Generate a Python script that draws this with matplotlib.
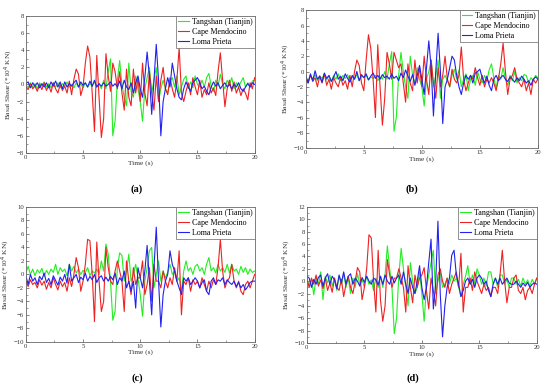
import numpy as np
import matplotlib
matplotlib.use('agg')
import matplotlib.pyplot as plt
from matplotlib.ticker import MultipleLocator

plt.rcParams['font.family'] = ['Liberation Serif', 'DejaVu Serif']

# time axis: one sample every 0.2 s, 0..20 s
time = np.arange(101) * 0.2

# ---- panel (a) ----
a_tangshan = [0.0, -0.4, 0.2, -0.3, 0.1, -0.5, 0.2, -0.2, 0.3, -0.3,
              0.1, -0.4, 0.2, -0.3, 0.2, -0.4, 0.1, -0.2, 0.3, -0.3,
              0.0, -0.4, 0.2, -0.3, 0.1, -0.4, 0.2, -0.3, 0.1, -0.2,
              0.3, -0.3, 0.1, -0.5, 0.5, -0.5, 1.5, 3.0, -6.0, -4.3,
              0.5, 2.8, 0.0, -1.5, -2.5, 2.5, -0.8, -1.5, 1.0, -0.5,
              -2.0, -4.3, -0.5, 0.8, 2.0, -1.0, 0.5, 2.0, -2.0, -0.5,
              0.5, -0.5, -1.0, 0.3, 0.8, -0.3, 1.0, -1.2, -0.3, 0.6,
              1.0, -0.5, 0.3, -0.4, 1.0, 0.0, -0.3, 0.5, -0.3, 0.8,
              1.3, -0.2, -0.8, 0.5, -0.2, 1.2, 0.0, -0.5, 0.5, 0.0,
              0.8, -0.5, 0.2, -0.3, 0.3, 0.8, -0.3, 0.2, -0.3, 0.4, 0.5]
a_cape = [-0.3, -0.6, 0.1, -0.5, -0.2, -0.8, 0.0, -0.6, 0.2, -0.7,
          -0.1, -0.9, 0.2, -0.5, -1.0, 0.0, -0.7, -0.2, -1.0, 0.4,
          -1.2, 0.6, 1.8, 1.2, -1.3, -0.3, 2.5, 4.5, 3.2, -1.0,
          -5.5, 3.4, -1.5, -6.2, -4.0, 3.6, 1.0, -0.8, 2.5, 1.5,
          -0.5, 1.5, -1.0, -3.0, 1.8, -1.5, -2.5, 1.8, -1.0, 0.8,
          -2.0, 2.5, -1.0, -2.5, 1.5, -1.0, -3.0, 1.0, -2.0, 0.5,
          2.0, -0.5, -1.2, 0.8, -0.5, -1.5, 0.5, 4.3, -1.0, -2.0,
          -0.8, 0.2, -1.2, 0.8, -0.3, -1.2, 0.5, -1.5, -0.6, -1.2,
          0.2, -1.0, -0.4, -1.3, 1.5, 3.7, 0.5, -2.6, -0.5, 0.5,
          -0.8, 0.3, -1.0, -0.3, -1.3, -0.5, -1.0, -1.8, 0.2, -0.5, 0.8]
a_loma = [0.1, 0.3, -0.4, 0.2, -0.2, 0.2, -0.4, 0.1, -0.3, 0.2,
          -0.4, 0.3, -0.2, 0.4, -0.3, 0.3, -0.5, 0.3, -0.3, 0.1,
          -0.2, 0.2, 0.5, -0.3, 0.3, -0.1, 0.2, -0.3, 0.4, -0.2,
          0.5, -0.3, 0.1, -0.2, 0.2, -0.2, 0.0, 0.3, -0.2, 0.1,
          -0.3, 0.4, -0.5, 0.5, -0.3, -0.6, 0.2, -1.0, 0.2, 1.0,
          -0.5, -1.5, 0.8, 3.8, 1.0, -3.5, 0.5, 4.7, 0.5, -6.0,
          -2.0, -0.5, 0.8, -0.3, 2.5, 1.0, -0.5, -1.5, -1.8, -0.5,
          0.3, -0.3, -0.8, 0.2, 0.5, 0.8, 0.2, -0.5, -0.2, -0.8,
          -1.2, -0.3, 0.3, -0.2, 0.2, -0.5, -0.1, 0.2, -0.3, 0.0,
          -0.5, 0.0, -0.3, 0.2, -0.5, -0.8, -0.3, 0.1, -0.3, 0.2, 0.0]

# ---- panel (b) ----
b_tangshan = [-0.8, -1.3, -0.5, -1.0, -0.4, -1.2, -0.6, -0.9, -0.3, -1.1,
              -0.6, -1.3, -0.5, -1.0, -0.3, -1.2, -0.5, -0.9, -0.4, -1.3,
              -0.7, -1.0, -0.4, -1.2, -0.6, -0.8, -0.5, -1.1, -0.7, -0.9,
              -0.5, -1.2, -0.7, -1.0, 0.0, -1.0, 1.0, 2.6, -7.8, -6.0,
              -0.5, 2.5, 0.0, -2.0, -3.5, 2.0, -0.5, -1.5, 0.5, -1.0,
              -2.0, -4.5, -1.0, 0.0, 1.5, -2.0, -0.5, 1.5, -3.5, -1.0,
              -0.5, -1.2, -2.0, -0.5, 0.3, -1.0, 0.2, -2.0, -1.0, -0.3,
              -2.5, -1.0, -0.5, -1.8, 0.0, -1.0, -1.5, -0.5, -1.2, 0.2,
              1.0, -0.8, -2.2, -0.5, -1.0, 0.5, -1.0, -1.8, -0.5, -1.2,
              0.0, -1.5, -0.8, -1.2, -0.4, -0.5, -1.5, -0.8, -1.2, -0.5, -0.8]
b_cape = [-1.0, -1.5, -0.5, -1.3, -0.8, -2.0, -0.6, -1.5, -0.3, -1.8,
          -1.0, -2.3, -0.8, -1.5, -2.0, -0.7, -1.8, -1.2, -2.3, -0.5,
          -2.0, 0.0, 1.5, 0.8, -1.5, -2.5, 1.5, 4.8, 3.0, -1.0,
          -6.0, 3.5, -2.0, -7.0, -3.5, 2.5, 1.0, -1.0, 2.5, 1.5,
          0.5, 1.0, -1.5, -4.0, 1.0, -1.5, -2.5, 1.5, -1.5, 0.5,
          -2.0, 2.0, -1.0, -3.0, 1.5, -1.5, -3.5, 0.5, -2.0, -0.5,
          2.0, -1.0, -2.0, 0.3, -1.0, -1.5, -0.5, 3.2, -1.0, -2.5,
          -1.5, -0.5, -1.0, 0.5, -0.8, -1.8, -0.5, -2.0, -1.0, -1.5,
          -0.8, -1.5, -2.5, -1.0, 1.0, 3.7, 0.0, -3.0, -1.0, -0.5,
          0.5, -1.0, -1.5, -2.0, -1.0, -2.5, -1.5, -3.0, -1.0, -1.5, -1.0]
b_loma = [-0.5, -1.5, -0.3, -1.2, 0.1, -1.0, -0.6, -1.4, -0.2, -0.9,
          -0.5, -1.3, -0.7, 0.0, -1.0, -0.6, -1.2, -0.3, -0.9, -1.4,
          -0.5, -1.0, 0.0, -1.2, -0.4, -0.8, -0.3, -1.1, -0.6, -0.2,
          -0.9, -0.5, -1.0, -0.4, -0.8, -0.6, -1.0, -0.3, -0.9, -0.6,
          -1.2, -0.2, -0.8, 0.2, -0.6, -1.3, -0.4, -1.8, -0.5, 0.8,
          -1.0, -3.0, 0.5, 4.0, 0.5, -5.8, 0.0, 5.0, 0.0, -6.8,
          -2.0, -1.0, 0.5, 2.0, 1.5, -0.5, -2.0, -3.0, -1.5, -0.5,
          -1.0, -0.5, -1.5, -0.2, 0.0, 0.3, -0.8, -1.5, -0.6, -1.8,
          -2.5, -1.0, -0.5, -1.2, -0.8, -0.5, -1.0, -1.3, -0.7, -1.0,
          -1.4, -0.8, -1.2, -0.6, -1.0, -1.5, -1.2, -1.8, -1.0, -0.7, -1.0]

# ---- panel (c) ----
c_tangshan = [0.2, 1.2, 0.0, 0.8, -0.2, 0.7, 0.2, 0.9, -0.3, 0.6,
              0.0, 0.8, 0.3, 1.5, 0.0, 1.0, 0.4, 0.8, -0.2, 1.5,
              0.5, 1.2, 0.2, 0.8, 0.0, 0.6, 0.3, 1.0, -0.2, 0.5,
              0.2, 0.8, 0.0, 2.0, 0.5, 4.5, 3.0, -1.0, -6.8, -5.5,
              1.0, 3.2, 2.8, -1.0, 0.5, 3.0, -1.0, 0.0, 1.5, -0.5,
              -3.0, -6.2, -1.0, 1.0, 3.5, 4.0, -2.0, 0.0, 2.0, -1.0,
              0.5, -0.5, 0.3, 1.5, 0.0, 0.5, -1.0, -0.5, -2.5, 0.5,
              2.0, 0.5, 1.0, 0.0, 1.2, 1.5, 0.5, 1.0, 0.0, 1.5,
              2.5, 0.5, 1.0, 0.2, 1.5, 0.5, 1.0, 0.3, 1.5, 0.2,
              1.5, 0.5, 0.8, 0.0, 1.2, 0.3, 1.0, 0.0, 0.8, 0.3, 0.5]
c_cape = [-1.0, -1.8, -0.8, -1.5, -1.2, -2.0, -0.8, -1.6, -1.0, -2.2,
          -1.2, -2.0, -0.5, -1.5, -2.3, -1.0, -1.8, -1.2, -2.5, -0.5,
          -1.8, 0.0, 2.5, 1.0, -2.5, -1.0, 1.5, 5.2, 5.0, 0.0,
          -7.0, 4.8, -1.0, -5.5, -4.0, 4.0, 1.0, -1.0, -1.5, 0.5,
          2.0, 0.5, -1.0, -5.5, 2.0, -1.0, -3.0, 1.0, -1.5, -0.5,
          -0.5, 2.0, -3.0, -1.5, 1.0, -4.0, 1.5, -1.0, -1.0, -2.0,
          0.5, -1.0, -2.0, -0.5, -1.5, 1.0, -1.0, 3.5, -6.0, -1.0,
          -1.5, -0.5, -2.5, -0.8, -1.5, -1.0, -2.0, -0.5, -1.5, -2.5,
          -1.0, -2.0, -0.8, -1.5, 1.0, 5.2, 0.5, -2.0, -1.0, -0.5,
          1.5, -1.0, -2.0, -1.0, -2.5, -3.0, -1.5, -1.0, -2.0, -1.0, 0.0]
c_loma = [-0.2, -1.5, 0.0, -1.0, -0.5, -1.5, -0.3, -0.8, 0.2, -1.2,
          -0.6, -1.5, -0.2, -0.9, -1.6, -0.4, -1.0, 0.0, -1.3, 1.5,
          -1.0, -0.5, 0.0, -1.2, -0.4, -0.8, 0.2, -1.0, -0.3, -0.8,
          0.0, -1.2, -0.5, -0.2, -1.0, -0.4, -1.0, -0.3, -0.8, 0.2,
          -1.5, -0.5, -1.0, 0.5, -2.0, -1.0, -2.5, -1.0, -5.0, 1.0,
          -0.5, -2.0, 0.5, 4.3, -1.0, -6.0, 1.0, 7.0, -1.0, -7.8,
          -3.0, -1.0, 0.0, 3.5, 1.5, 0.5, -1.0, -2.0, -3.0, -0.5,
          -1.0, -0.5, -1.5, -1.0, -0.5, -1.0, -2.0, -1.2, -0.8, -2.5,
          -3.0, -1.0, -0.5, -1.5, -0.8, -1.0, -0.5, -1.5, -0.8, -1.2,
          -1.5, -1.0, -1.8, -1.2, -2.0, -1.5, -2.3, -1.8, -1.2, -1.0, -1.0]

# ---- panel (d) ----
d_tangshan = [0.5, -0.8, 0.3, -2.2, 0.6, -0.5, 1.5, -3.0, 0.8, -0.3,
              1.0, -0.8, 0.5, -1.5, 0.8, -0.5, 1.2, -1.0, 0.5, -2.0,
              0.5, -1.0, 1.2, -0.5, 0.3, -1.0, 0.8, -0.5, 0.2, -1.5,
              0.5, -1.0, 0.8, -1.0, 1.0, 5.7, 2.0, -1.0, -8.5, -6.0,
              1.0, 5.3, 2.0, -1.0, -4.0, 3.0, 0.0, -2.0, -1.0, 1.5,
              -2.0, -6.5, -1.0, 1.0, 3.0, 5.0, -2.0, 0.0, 1.5, -1.0,
              -0.5, 0.5, -0.5, 1.0, 0.0, 0.5, -1.0, -2.5, -0.5, 0.8,
              2.5, -0.5, 1.0, -0.5, 2.0, 1.0, -0.5, 0.5, -0.8, 1.5,
              1.5, -0.5, 0.5, -1.0, 1.0, 1.0, -0.5, 0.3, -1.0, 0.5,
              0.5, -0.5, 0.3, -0.8, 0.5, -0.5, 0.2, -0.8, 0.3, -0.5, 0.5]
d_cape = [0.3, -1.0, 0.5, -0.5, 1.0, -0.8, 0.2, -1.2, 0.5, -1.5,
          -0.3, -1.8, 0.5, -1.0, -1.5, 0.3, -2.5, -0.5, 0.8, -1.0,
          -2.0, 0.0, 2.2, 1.5, -3.0, -1.0, 2.0, 7.5, 7.0, 0.0,
          -5.0, 5.0, -3.0, -6.5, -4.0, 3.5, 1.0, -1.0, 0.5, 0.5,
          2.0, 0.5, -1.0, -5.0, 2.5, -1.0, -3.5, 1.0, -1.0, 0.5,
          1.0, 2.2, -1.5, -4.5, 0.5, -1.5, -4.0, 1.0, 2.0, 0.0,
          -1.0, 0.5, -2.0, -0.5, 0.5, 1.5, -1.0, 4.5, -5.0, -1.0,
          -1.0, 0.5, -1.5, 1.5, 0.0, -1.0, -2.0, -0.5, -1.5, -1.0,
          -2.5, -1.0, -1.0, -2.0, 1.0, 5.0, 0.0, -3.5, -1.0, -1.0,
          0.5, 1.0, -1.5, -2.0, -1.0, -3.0, -1.5, -1.0, -2.0, -0.5, 0.5]
d_loma = [0.8, 0.5, -1.0, 0.3, -0.5, 0.6, 1.0, -0.8, 0.5, 1.2,
          -0.5, 0.8, 0.2, -1.2, 1.0, -0.3, 1.5, -0.5, 0.8, 1.2,
          -0.5, 0.5, 0.0, -0.8, 0.6, -0.2, 0.8, 0.0, -0.5, 0.5,
          0.2, -0.6, 0.8, -0.5, 1.0, 0.0, -0.5, 0.8, -0.3, 0.5,
          1.0, -0.5, 1.5, -0.5, -2.0, 0.5, -1.0, -2.0, 0.0, 2.5,
          -1.0, -3.0, -1.0, 3.0, 6.8, -4.5, -0.5, 9.7, -2.0, -9.0,
          -4.0, -1.0, 0.5, 4.2, 5.0, 1.0, -0.5, -2.5, -1.5, 0.0,
          0.5, -0.5, 0.3, -1.0, 0.5, 1.0, 0.5, -0.5, 0.0, -1.5,
          -2.5, -0.5, 0.5, -0.5, 0.5, -0.5, 0.0, 0.5, -0.3, -0.5,
          -0.5, 0.0, -0.5, -1.0, -0.3, -0.8, -0.2, -1.0, -0.5, -0.3, -0.5]

labels = ['Tangshan (Tianjin)', 'Cape Mendocino', 'Loma Prieta']
colors = ['#22ee22', '#ee2222', '#2222ee']

panels = [
    ('(a)', [a_tangshan, a_cape, a_loma], (-8, 8),
     [0.047, 0.610, 0.416, 0.349], (137, 189)),
    ('(b)', [b_tangshan, b_cape, b_loma], (-10, 8),
     [0.556, 0.622, 0.422, 0.352], (412, 189)),
    ('(c)', [c_tangshan, c_cape, c_loma], (-10, 10),
     [0.047, 0.128, 0.416, 0.344], (137, 378)),
    ('(d)', [d_tangshan, d_cape, d_loma], (-10, 12),
     [0.558, 0.125, 0.418, 0.347], (413, 378)),
]

fig = plt.figure(figsize=(5.5, 3.92), dpi=100)

for tag, series, ylim, rect, (lx, ly) in panels:
    ax = fig.add_axes(rect)
    for vals, lab, col in zip(series, labels, colors):
        ax.plot(time, vals, color=col, lw=0.8, label=lab)
    ax.set_xlim(0, 20)
    ax.set_ylim(*ylim)
    ax.xaxis.set_major_locator(MultipleLocator(5))
    ax.xaxis.set_minor_locator(MultipleLocator(2.5))
    ax.yaxis.set_major_locator(MultipleLocator(2))
    ax.yaxis.set_minor_locator(MultipleLocator(1))
    ax.tick_params(which='both', direction='in', labelsize=4.8,
                   color='#555555', labelcolor='#333333', pad=1.5)
    ax.tick_params(which='major', length=2, width=0.5)
    ax.tick_params(which='minor', length=1.2, width=0.4)
    for sp in ax.spines.values():
        sp.set_color('#666666')
        sp.set_linewidth(0.6)
    ax.set_xlabel('Time (s)', fontsize=5.3, labelpad=0.5, color='#333333')
    ax.set_ylabel('Basal Shear (*10$^4$ KN)', fontsize=5.3, labelpad=1,
                  color='#333333')
    leg = ax.legend(loc='upper right', fontsize=5.8, handlelength=1.3,
                    handletextpad=0.4, borderpad=0.25, labelspacing=0.25,
                    borderaxespad=0.0, fancybox=False, framealpha=1)
    leg.get_frame().set_edgecolor('#666666')
    leg.get_frame().set_linewidth(0.5)
    fig.text(lx / 550, 1 - ly / 392, tag, ha='center', va='center',
             fontsize=7.5, fontweight='bold')

fig.savefig('out.png', dpi=100)
